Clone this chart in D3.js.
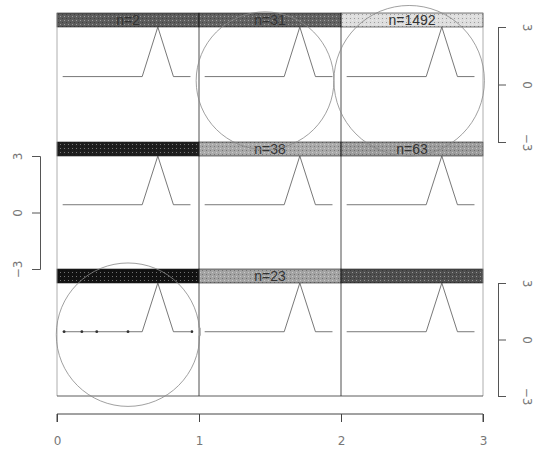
<!DOCTYPE html>
<html><head><meta charset="utf-8">
<script src="https://cdn.jsdelivr.net/npm/d3@7"></script>
<style>body{margin:0;background:#fff}svg{display:block}</style>
</head><body>
<svg id="c" width="536" height="453"></svg>
<script>
// ---- data ----
const xTicks = [0, 1, 2, 3];
const yTicks = [-3, 0, 3];
const rows = [0, 1, 2];
const cols = [0, 1, 2];
const stripLabels = [["n=2", "n=31", "n=1492"], ["", "n=38", "n=63"], ["", "n=23", ""]];
const stripShades = [["#5c5c5c", "#626262", "#dedede"], ["#1e1e1e", "#a9a9a9", "#9c9c9c"], ["#121212", "#a3a3a3", "#4e4e4e"]];
const profileX = [0.04, 0.6, 0.71, 0.82, 0.94];
const profileY = [0.42, 0.42, 3.05, 0.42, 0.42];
const markerX = [0.05, 0.175, 0.28, 0.5, 0.95];
const markerY = [0.42, 0.42, 0.42, 0.42, 0.42];
const circleRow = [0, 0, 2];
const circleX = [1.465, 2.48, 0.5];
const circleY = [0.2, 0.2, 0.26];
const circleR = [0.485, 0.53, 0.505];

// ---- layout ----
const svg = d3.select("#c");
const x = d3.scaleLinear().domain([0, 3]).range([57, 483]);
const rowTop = [13, 142, 269];
const stripH = 14;
const rowBottom = [142, 269, 396];
const yScales = rows.map(r => d3.scaleLinear().domain([-3.05, 3.05]).range([rowBottom[r], rowTop[r] + stripH]));

// texture pattern
const defs = svg.append("defs");
const pat = defs.append("pattern").attr("id", "tex").attr("width", 4).attr("height", 4).attr("patternUnits", "userSpaceOnUse");
pat.append("rect").attr("x", 0).attr("y", 0).attr("width", 1).attr("height", 1).attr("fill", "#fff").attr("opacity", 0.4);
pat.append("rect").attr("x", 2).attr("y", 2).attr("width", 1).attr("height", 1).attr("fill", "#000").attr("opacity", 0.3);

// strips
rows.forEach(r => cols.forEach(c => {
  const x0 = x(c), x1 = x(c + 1);
  svg.append("rect").attr("x", x0).attr("y", rowTop[r]).attr("width", x1 - x0).attr("height", stripH)
    .attr("fill", stripShades[r][c]).attr("stroke", "#222").attr("stroke-width", 0.6);
  svg.append("rect").attr("x", x0).attr("y", rowTop[r]).attr("width", x1 - x0).attr("height", stripH)
    .attr("fill", "url(#tex)");
  svg.append("text").attr("x", x(c + 0.5)).attr("y", rowTop[r] + stripH / 2 + 5)
    .attr("text-anchor", "middle").attr("font-family", "Liberation Sans, Arial, sans-serif")
    .attr("font-size", 14).attr("fill", "#333").text(stripLabels[r][c]);
}));

// panel borders
const vLineX = [0, 1, 2, 3];
vLineX.forEach((v, i) => {
  svg.append("line").attr("x1", x(v)).attr("x2", x(v)).attr("y1", rowTop[0]).attr("y2", rowBottom[2])
    .attr("stroke", (i === 0 || i === 3) ? "#999" : "#222").attr("stroke-width", 0.8);
});
svg.append("line").attr("x1", x(0)).attr("x2", x(3)).attr("y1", rowBottom[2]).attr("y2", rowBottom[2])
  .attr("stroke", "#333").attr("stroke-width", 0.8);

// profile lines
const line = d3.line();
rows.forEach(r => cols.forEach(c => {
  const pts = profileX.map((px, i) => [x(c + px), yScales[r](profileY[i])]);
  svg.append("path").attr("d", line(pts)).attr("fill", "none").attr("stroke", "#555").attr("stroke-width", 0.8);
}));

// markers in bottom-left panel
markerX.forEach((mx, i) => {
  svg.append("circle").attr("cx", x(mx)).attr("cy", yScales[2](markerY[i])).attr("r", 1.4).attr("fill", "#333");
});
svg.append("rect").attr("x", x(1) - 1).attr("y", yScales[2](0.42) - 4).attr("width", 3).attr("height", 8).attr("fill", "#bbb");

// circles
circleX.forEach((cx, i) => {
  svg.append("circle").attr("cx", x(cx)).attr("cy", yScales[circleRow[i]](circleY[i]))
    .attr("r", x(circleR[i]) - x(0)).attr("fill", "none").attr("stroke", "#888").attr("stroke-width", 0.8);
});

// bottom axis
const axG = svg.append("g").attr("transform", "translate(0,414)");
axG.call(d3.axisBottom(x).tickValues(xTicks).tickFormat(d3.format("d")).tickSize(8).tickPadding(14));
axG.select(".domain").attr("stroke", "#444").attr("d", `M${x(0)},8V0H${x(3)}V8`);
axG.selectAll(".tick line").attr("stroke", "#444");
axG.selectAll("text").attr("font-family", "DejaVu Sans, sans-serif").attr("font-size", 12).attr("fill", "#777");

// side axes (rotated labels)
function sideAxis(r, side) {
  const ys = d3.scaleLinear().domain([-3, 3]).range([rowBottom[r], rowTop[r] + stripH]);
  const ax = side === "left" ? d3.axisLeft(ys) : d3.axisRight(ys);
  const px = side === "left" ? 40 : 498;
  const g = svg.append("g").attr("transform", `translate(${px},0)`);
  g.call(ax.tickValues(yTicks).tickSize(8).tickFormat(d3.format("d")).tickSizeOuter(8));
  g.select(".domain").attr("stroke", "#555");
  g.selectAll(".tick line").attr("stroke", "#555");
  g.selectAll(".tick text")
    .attr("font-family", "DejaVu Sans, sans-serif").attr("font-size", 12).attr("fill", "#777")
    .attr("text-anchor", "middle").attr("dy", null).attr("y", null)
    .each(function () {
      const t = d3.select(this);
      const xx = side === "left" ? -22 : 29;
      t.attr("x", 0).attr("dy", "0.35em")
        .attr("transform", `translate(${xx},0) rotate(${side === "left" ? -90 : 90})`);
    });
}
sideAxis(0, "right");
sideAxis(1, "left");
sideAxis(2, "right");
</script>
</body></html>
